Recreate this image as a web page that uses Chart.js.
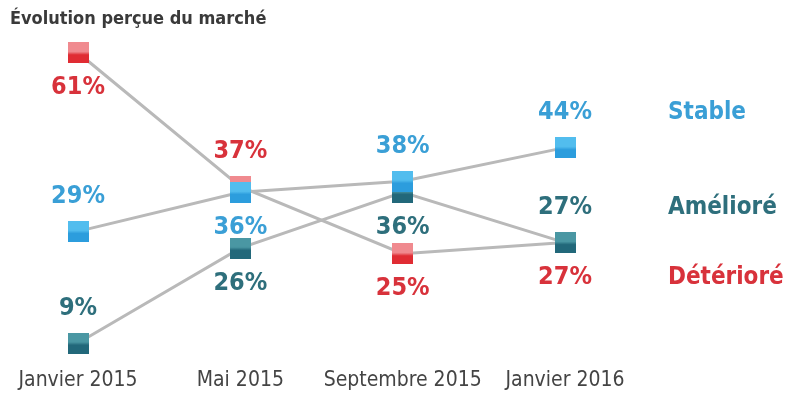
<!DOCTYPE html>
<html>
<head>
<meta charset="utf-8">
<script src="https://cdn.jsdelivr.net/npm/chart.js@4"></script>
<style>
  html, body { margin: 0; padding: 0; background: #ffffff; }
  #wrap { width: 800px; height: 420px; }
</style>
</head>
<body>
<div id="wrap"><canvas id="chart" width="800" height="420"></canvas></div>
<script>
// ===============================
// Data
// ===============================

const periods = ["Janvier 2015", "Mai 2015", "Septembre 2015", "Janvier 2016"];

const seriesNames = ["Stable", "Amélioré", "Détérioré"];

const stable = [29, 36, 38, 44];
const ameliore = [9, 26, 36, 27];
const deteriore = [61, 37, 25, 27];

// where each % label sits relative to its marker
const stablePos = ["above", "below", "above", "above"];
const amelioPos = ["above", "below", "below", "above"];
const deterPos = ["below", "above", "below", "below"];

const FONT = "'DejaVu Sans Condensed', 'Liberation Sans', sans-serif";

// ===============================
// Marker images (light top, darker bottom)
// ===============================

function makeMarker(top, bottom){

    const c = document.createElement("canvas");
    c.width = 21;
    c.height = 21;
    const g = c.getContext("2d");

    const grad = g.createLinearGradient(0, 0, 0, 21);
    grad.addColorStop(0, top);
    grad.addColorStop(0.45, top);
    grad.addColorStop(0.6, bottom);
    grad.addColorStop(1, bottom);

    g.fillStyle = grad;
    g.fillRect(0, 0, 21, 21);

    return c;
}

const colors = {
    stable: { label: "#3a9fd6", top: "#52bdee", bottom: "#2c9ddd" },
    ameliore: { label: "#2e6f7c", top: "#4a97a3", bottom: "#22687a" },
    deteriore: { label: "#d8323b", top: "#f08a8f", bottom: "#e02c33" }
};

// ===============================
// Labels + legend plugin
// ===============================

const labelPlugin = {

    id: "pctLabels",

    afterDatasetsDraw(chart){

        const ctx = chart.ctx;

        ctx.save();

        // title
        ctx.font = "bold 18px " + FONT;
        ctx.fillStyle = "#3a3a3a";
        ctx.textAlign = "left";
        ctx.textBaseline = "alphabetic";
        ctx.fillText("Évolution perçue du marché", 10, 24);

        chart.data.datasets.forEach(function(ds, i){

            const meta = chart.getDatasetMeta(i);
            let lastY = 0;

            meta.data.forEach(function(pt, j){

                const dy = ds.labelPos[j] === "above" ? -35 : 35;
                lastY = pt.y + dy;

                ctx.font = "bold 25px " + FONT;
                ctx.fillStyle = ds.labelColor;
                ctx.textAlign = "center";
                ctx.textBaseline = "middle";
                ctx.fillText(ds.data[j] + "%", pt.x, lastY);

            });

            // series name on the right, level with the last label
            ctx.font = "bold 24px " + FONT;
            ctx.textAlign = "left";
            ctx.fillText(ds.label, 668, lastY);

        });

        ctx.restore();
    }
};

// ===============================
// Chart
// ===============================

function series(name, values, pos, c){

    return {
        label: name,
        data: values,
        labelPos: pos,
        labelColor: c.label,
        borderColor: "#b9b9b9",
        borderWidth: 3,
        tension: 0,
        fill: false,
        pointStyle: makeMarker(c.top, c.bottom),
        pointRadius: 10,
        pointHoverRadius: 10,
        clip: false
    };
}

new Chart(document.getElementById("chart"), {

    type: "line",

    data: {
        labels: periods,
        datasets: [
            series(seriesNames[0], stable, stablePos, colors.stable),
            series(seriesNames[1], ameliore, amelioPos, colors.ameliore),
            series(seriesNames[2], deteriore, deterPos, colors.deteriore)
        ]
    },

    options: {

        responsive: false,
        animation: false,

        layout: {
            padding: { left: 78, right: 235, top: 36, bottom: 19 }
        },

        plugins: {
            legend: { display: false },
            title: { display: false },
            tooltip: { enabled: false }
        },

        scales: {

            x: {
                offset: false,
                grid: { display: false, drawTicks: false },
                border: { display: false },
                ticks: {
                    padding: 8,
                    color: "#444444",
                    maxRotation: 0,
                    autoSkip: false,
                    font: { family: FONT, size: 21 }
                }
            },

            y: {
                display: false,
                min: 6,
                max: 64
            }
        }
    },

    plugins: [labelPlugin]

});
</script>
</body>
</html>
